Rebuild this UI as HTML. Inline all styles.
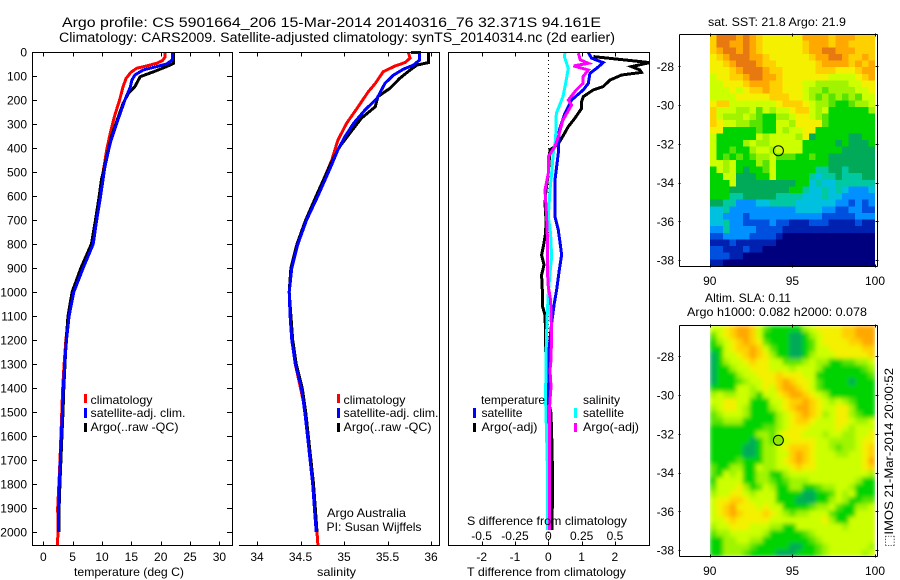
<!DOCTYPE html>
<html>
<head>
<meta charset="utf-8">
<title>Argo profile CS 5901664_206</title>
<style>
html,body{margin:0;padding:0;background:#fff;}
svg{display:block;font-family:"Liberation Sans",sans-serif;fill:#000;}
text{font-size:12px;}
.t14{font-size:13.5px;}
.crisp{shape-rendering:crispEdges;}
</style>
</head>
<body>
<svg id="chart" xmlns="http://www.w3.org/2000/svg" width="900" height="580" viewBox="0 0 900 580">
  <defs>
    <filter id="smooth" x="-5%" y="-5%" width="110%" height="110%"><feGaussianBlur stdDeviation="2.2" edgeMode="duplicate"/></filter>
    <clipPath id="sla-clip"><rect x="710" y="325.5" width="165" height="231"/></clipPath>
  </defs>
  <text class="t14" x="62" y="27" textLength="539" lengthAdjust="spacingAndGlyphs">Argo profile: CS 5901664_206 15-Mar-2014 20140316_76 32.371S 94.161E</text>
  <text class="t14" x="59" y="42" textLength="556" lengthAdjust="spacingAndGlyphs">Climatology: CARS2009. Satellite-adjusted climatology: synTS_20140314.nc (2d earlier)</text>

  <g id="grid-layer"></g>
  <g id="series-layer"></g>
  <g id="sst-map" class="crisp"></g>
  <g clip-path="url(#sla-clip)"><g id="sla-map" filter="url(#smooth)"></g></g>
  <g id="axes-layer" class="crisp" stroke="#000" stroke-width="1"></g>
  <g id="labels-layer"></g>

  <text x="74" y="576" textLength="110" lengthAdjust="spacingAndGlyphs">temperature (deg C)</text>
  <text x="317" y="576" textLength="39" lengthAdjust="spacingAndGlyphs">salinity</text>
  <text x="467" y="576" textLength="159" lengthAdjust="spacingAndGlyphs">T difference from climatology</text>
  <text x="467" y="525" textLength="160" lengthAdjust="spacingAndGlyphs">S difference from climatology</text>

  <g>
    <rect class="crisp" x="84" y="394" width="3" height="9" fill="#f00"/>
    <text x="90.5" y="404" textLength="62" lengthAdjust="spacingAndGlyphs">climatology</text>
    <rect class="crisp" x="84" y="408" width="3" height="10" fill="#00f"/>
    <text x="90.5" y="417" textLength="95" lengthAdjust="spacingAndGlyphs">satellite-adj. clim.</text>
    <rect class="crisp" x="84" y="423" width="3" height="9" fill="#000"/>
    <text x="90.5" y="431" textLength="88" lengthAdjust="spacingAndGlyphs">Argo(..raw -QC)</text>
  </g>
  <g>
    <rect class="crisp" x="337" y="394" width="3" height="9" fill="#f00"/>
    <text x="343.5" y="404" textLength="62" lengthAdjust="spacingAndGlyphs">climatology</text>
    <rect class="crisp" x="337" y="408" width="3" height="10" fill="#00f"/>
    <text x="343.5" y="417" textLength="95" lengthAdjust="spacingAndGlyphs">satellite-adj. clim.</text>
    <rect class="crisp" x="337" y="423" width="3" height="9" fill="#000"/>
    <text x="343.5" y="431" textLength="88" lengthAdjust="spacingAndGlyphs">Argo(..raw -QC)</text>
  </g>
  <text x="327" y="517" textLength="79" lengthAdjust="spacingAndGlyphs">Argo Australia</text>
  <text x="326.5" y="531" textLength="95" lengthAdjust="spacingAndGlyphs">PI: Susan Wijffels</text>

  <g>
    <text x="481" y="404" textLength="64" lengthAdjust="spacingAndGlyphs">temperature</text>
    <text x="583" y="404" textLength="37" lengthAdjust="spacingAndGlyphs">salinity</text>
    <rect class="crisp" x="473" y="408" width="3" height="10" fill="#00f"/>
    <text x="481.5" y="417" textLength="41" lengthAdjust="spacingAndGlyphs">satellite</text>
    <rect class="crisp" x="473" y="423" width="3" height="9" fill="#000"/>
    <text x="481.5" y="431" textLength="56" lengthAdjust="spacingAndGlyphs">Argo(-adj)</text>
    <rect class="crisp" x="574" y="408" width="3" height="10" fill="#0ff"/>
    <text x="583" y="417" textLength="41" lengthAdjust="spacingAndGlyphs">satellite</text>
    <rect class="crisp" x="574" y="423" width="3" height="9" fill="#f0f"/>
    <text x="583" y="431" textLength="56" lengthAdjust="spacingAndGlyphs">Argo(-adj)</text>
  </g>

  <text x="708" y="26" textLength="138" lengthAdjust="spacingAndGlyphs">sat. SST: 21.8 Argo: 21.9</text>
  <text x="705" y="302" textLength="86" lengthAdjust="spacingAndGlyphs">Altim. SLA: 0.11</text>
  <text x="687" y="316" textLength="180" lengthAdjust="spacingAndGlyphs">Argo h1000: 0.082 h2000: 0.078</text>
  <circle cx="778.4" cy="150.7" r="5" fill="none" stroke="#000" stroke-width="1"/>
  <circle cx="778.4" cy="440.3" r="5" fill="#8fe800" stroke="#000" stroke-width="1"/>
  <text transform="translate(893,547) rotate(-90)" x="0" y="0" textLength="179" lengthAdjust="spacingAndGlyphs">⬚IMOS 21-Mar-2014 20:00:52</text>
</svg>

<script>
// ---- profile depths and values ----
const tempClimDepth = [0,22,36,47,58,68,85,110,144,200,262,339,408,499,603,700,800,900,1000,1100,1200,1300,1400,1500,1600,1700,1800,1900,2000,2054];
const tempClim      = [20.7,20.7,20.3,19.3,17.6,15.9,14.9,14.1,13.6,13,12.2,11.4,10.8,10.2,9.6,9,8.4,6.6,5.0,4.3,3.85,3.55,3.3,3.15,3.0,2.85,2.65,2.45,2.5,2.4];
const tempSatDepth  = [0,33,50,61,75,96,117,147,200,297,380,478,603,700,800,900,1000,1100,1200,1300,1400,1500,1600,1700,1800,1900,2000];
const tempSat       = [22,22,21,19.3,17,15.6,15.1,14.8,13.9,12.5,11.4,10.5,9.75,9.1,8.5,6.8,5.2,4.4,3.95,3.65,3.4,3.25,3.07,2.9,2.73,2.62,2.56];
const tempArgoDepth = [0,47,61,82,103,144,172,214,269,353,436,533,603,700,800,900,1000,1100,1200,1300,1400,1500,1600,1700,1800,1900,2000];
const tempArgo      = [22.2,22.2,21,18.8,16.5,15.6,14.5,13.6,12.8,11.6,10.8,9.9,9.5,8.9,8.2,6.4,4.9,4.2,3.9,3.7,3.5,3.35,3.17,3.0,2.83,2.7,2.65];

const salClimDepth = [3,26,44,58,82,131,165,235,297,367,450,600,700,800,900,1000,1100,1200,1300,1400,1500,1600,1700,1800,1900,2000,2054];
const salClim      = [35.74,35.76,35.7,35.59,35.45,35.36,35.28,35.15,35.03,34.93,34.86,34.69,34.57,34.47,34.4,34.37,34.38,34.4,34.44,34.5,34.56,34.59,34.62,34.65,34.67,34.69,34.7];
const salSatDepth  = [3,3,33,54,72,96,131,193,242,297,353,408,485,600,700,800,900,1000,1100,1200,1300,1400,1500,1600,1700,1800,1900,2000];
const salSat       = [35.77,35.87,35.87,35.8,35.68,35.57,35.47,35.38,35.24,35.11,35.01,34.93,34.84,34.7,34.57,34.47,34.4,34.37,34.38,34.4,34.44,34.51,34.55,34.58,34.61,34.64,34.66,34.68];
const salArgoDepth = [5,44,54,75,110,151,186,228,276,318,394,471,600,700,800,900,1000,1100,1200,1300,1400,1500,1600,1700,1800,1900,2000];
const salArgo      = [35.97,35.97,35.84,35.76,35.64,35.53,35.39,35.36,35.2,35.11,34.95,34.84,34.68,34.56,34.46,34.39,34.37,34.39,34.41,34.45,34.52,34.56,34.59,34.62,34.65,34.67,34.69];

const diffTArgoDepth = [19,44,61,75,85,96,117,144,158,186,207,235,276,311,353,383,408,505,575,630,700,756,811,846,887,929,992,1061,1096,1172,1242,1283,1450,1506,1644,1783,1992];
const diffTArgo      = [1.35,3.05,2.5,2.75,2.8,2.2,1.85,1.65,1.35,1.05,1,1,0.8,0.6,0.43,0.3,0.05,0,-0.07,-0.1,-0.07,-0.08,-0.15,-0.2,-0.13,-0.2,-0.18,-0.17,-0.1,-0.08,-0.09,0,0,0.08,0.11,0.13,0.11];
const diffTSatDepth  = [3,26,44,68,89,131,158,200,256,325,422,533,686,742,811,846,908,992,1047,1131,1172,1270,1394,1600,1992];
const diffTSat       = [1.2,1.3,1.65,1.45,1.25,1.2,1.05,0.7,0.5,0.33,0.3,0.2,0.2,0.3,0.37,0.4,0.33,0.25,0.18,0.1,0.07,0,0,0.03,0.03];
const diffSSatDepth  = [3,19,68,131,186,256,367,408,505,575,686,756,853,922,1006,1089,1172,1270,1450,1506,1714,1922,1992];
const diffSSat       = [0.125,0.12,0.15,0.13,0.11,0.06,0.055,0.04,0.025,0.0125,0,0.017,0.025,0.0125,0,-0.0075,-0.0125,-0.0175,-0.02,-0.0175,-0.0075,-0.005,-0.005];
const diffSArgoDepth = [5,33,47,58,75,103,131,158,200,221,283,353,394,436,505,575,686,797,908,978,1033,1172,1283,1325,1394,1450,1506,1783,1992];
const diffSArgo      = [0.225,0.24,0.3,0.19,0.3,0.26,0.26,0.21,0.15,0.175,0.11,0.075,0.05,0,0,-0.025,-0.0125,-0.005,-0.0075,0,0.0175,0.025,0.02,0.0125,0.02,0.0125,0.0075,0.0075,0.0075];

// ---- tick labels ----
const depthTicks = [0,100,200,300,400,500,600,700,800,900,1000,1100,1200,1300,1400,1500,1600,1700,1800,1900,2000];
const tempTicks = [0,5,10,15,20,25,30];
const salTicks = ["34","34.5","35","35.5","36"];
const diffTTicks = ["-2","-1","0","1","2"];
const diffSTicks = ["-0.5","-0.25","0","0.25","0.5"];
const lonTicks = [90,95,100];
const latTicks = [28,30,32,34,36,38];

// ---- heatmaps: colour class per cell, west to east, north to south (0.4 deg x 0.34 deg cells) ----
const sstCells = [
"ceeed edcbb bbbbd dddcd ddccc",
"ceedd edcbb bbbbc dddcd dcccc",
"cdeed edcbb bbbbc ddeed ddccc",
"bcdee eddcb bbbbb cddee dccdc",
"bbcde eedcc bbbbb bcddd dcdcd",
"bbbcd eeedc cbbbb bcccb bbcdd",
"abbcc deedd cbbbb bbbaa aabcd",
"aabbb cdddc cbbba a9999 9aabb",
"aaaba bccdc cbbba 99899 99aab",
"aaaab bbbbc ccbba 98989 898aa",
"bccaa aaaaa bcccb a9987 7899a",
"caaa9 9a8a9 aabcc a9a77 77779",
"ca999 a9877 99abb a9877 77777",
"cbaa9 98877 aa9bb bb877 77777",
"bb777 77877 a9aab b7777 77777",
"a7777 77a9a aaa9b 67777 76677",
"a7777 9a99a aaaa7 77776 76667",
"a7787 79aa9 aaaa7 77777 66666",
"a7878 7899a 88877 87766 66666",
"aa9a7 7798a 77777 77766 66666",
"7a9a7 6778a 77777 75566 56666",
"77aa6 6677a 77777 54556 55566",
"777a6 66666 66677 45445 55555",
"77766 66666 66775 44545 43334",
"77755 66666 55554 44544 33333",
"66553 33445 55544 44443 32323",
"44533 33333 33344 44332 23322",
"44333 23333 33333 33222 22333",
"44533 22223 22111 22211 11211",
"33533 33222 21111 11111 11111",
"22333 32222 10000 00000 00000",
"11121 11111 00000 00000 00000",
"22111 21100 00000 00000 00000",
"22211 00000 00000 00000 00000",
"11000 00000 00000 00000 00000"
];
const slaCells = [
"aabcd dca87 77779 abbbb ccddd",
"8abcd dca77 77667 9abbb ccddd",
"79abc dcb87 77667 8abbb bccdd",
"77abc cdca8 77667 8aabb bbbcc",
"67aab cdcb9 77667 9aaab bbbbc",
"679aa bcbba a8889 a9977 8899a",
"6779a abbba aa9aa a9777 77789",
"67779 aabbb cbbba a7777 77778",
"67778 9aabb cdcbb a8777 76777",
"7777a a9aba cddcb a8777 77777",
"9a99a a97aa bcddc ba977 77777",
"aabba a777a abccd cba9a 98777",
"9abba 97779 abcdd cbaab b9777",
"89aaa 97777 9abcd cb9ab b9877",
"88999 77777 9abcc baaab ba99a",
"77777 77788 9abbb aaaab a9aaa",
"77777 77998 abbba aa9aa 99aab",
"77777 76798 aabbb baa99 99abb",
"77777 66799 abccc baa98 99abc",
"77777 66799 aacdc baaa9 9aabc",
"77778 77799 abcdc baaaa aaabd",
"87799 77a99 aabcb baaaa aaabc",
"87a9a 77997 79aaa aaaaa aaaa9",
"7aaaa 77998 78999 aaaaa aa977",
"8aaab 978a9 77997 7899a a9777",
"9aabb a9aaa 77776 6778a 9a777",
"abbcc baaaa 77766 6779a 97788",
"abcdb bbaba a7777 899a8 7799a",
"abcdc bbbcb a9899 aaa87 77aaa",
"aabcb bbbba aaaaa aab97 7aaaa",
"9aabb baaa9 977aa aaaaa 9aaaa",
"899aa aaa97 77778 9aaaa aaaaa",
"7799a a9977 77777 89aaa aaaaa",
"77999 98777 77667 789aa aaaa9",
"77999 87777 66677 789aa aaa9a"
];
const colourScale = {"0":"#00007f","1":"#0020b0","2":"#0050e0","3":"#0090ff","4":"#00c0e0","5":"#00c8a0","6":"#00aa58","7":"#00d400","8":"#58e400","9":"#a0f400","a":"#ccff00","b":"#f4f000","c":"#ffd000","d":"#ffa800","e":"#e87810"};

const NS = "http://www.w3.org/2000/svg";
const yDepth = d => 52 + d * 0.24;
const xTemp = t => 43.3 + t * 5.87;
const xSal = s => 257 + (s - 34) * 87;
const xDiffT = t => 548.3 + t * 33.3;
const xDiffS = s => 548.3 + s * 133.3;
const xLon = lon => 709.8 + (lon - 90) * 16.52;
const ySst = lat => 66.3 + (lat - 28) * 19.37;
const ySla = lat => 356.3 + (lat - 28) * 19.37;

const seriesLayer = document.getElementById("series-layer");
const axesLayer = document.getElementById("axes-layer");
const labelsLayer = document.getElementById("labels-layer");
const gridLayer = document.getElementById("grid-layer");

function drawSeries(name, depths, values, xScale, colour) {
  const el = document.createElementNS(NS, "polyline");
  el.setAttribute("points", depths.map((d, i) => xScale(values[i]).toFixed(1) + "," + yDepth(d).toFixed(1)).join(" "));
  el.setAttribute("fill", "none");
  el.setAttribute("stroke", colour);
  el.setAttribute("stroke-width", "3");
  el.setAttribute("stroke-linejoin", "miter");
  el.setAttribute("shape-rendering", "crispEdges");
  
  
  seriesLayer.appendChild(el);
}

function drawLine(name, x1, y1, x2, y2) {
  const el = document.createElementNS(NS, "line");
  el.setAttribute("x1", x1);
  el.setAttribute("y1", y1);
  el.setAttribute("x2", x2);
  el.setAttribute("y2", y2);
  
  
  axesLayer.appendChild(el);
}

function drawLabel(name, str, x, y, anchor) {
  const el = document.createElementNS(NS, "text");
  el.setAttribute("x", x);
  el.setAttribute("y", y);
  el.setAttribute("text-anchor", anchor);
  el.textContent = str;
  
  
  labelsLayer.appendChild(el);
}

// zero line in the difference panel
const zeroLine = document.createElementNS(NS, "line");
zeroLine.setAttribute("x1", "548.5");
zeroLine.setAttribute("x2", "548.5");
zeroLine.setAttribute("y1", "52");
zeroLine.setAttribute("y2", "545");
zeroLine.setAttribute("stroke", "#000");
zeroLine.setAttribute("stroke-dasharray", "1 3");


gridLayer.appendChild(zeroLine);

// profile series
drawSeries("temperature-climatology-line", tempClimDepth, tempClim, xTemp, "#f00");
drawSeries("temperature-argo-line", tempArgoDepth, tempArgo, xTemp, "#000");
drawSeries("temperature-satellite-line", tempSatDepth, tempSat, xTemp, "#00f");
drawSeries("salinity-climatology-line", salClimDepth, salClim, xSal, "#f00");
drawSeries("salinity-argo-line", salArgoDepth, salArgo, xSal, "#000");
drawSeries("salinity-satellite-line", salSatDepth, salSat, xSal, "#00f");
drawSeries("t-difference-argo-line", diffTArgoDepth, diffTArgo, xDiffT, "#000");
drawSeries("t-difference-satellite-line", diffTSatDepth, diffTSat, xDiffT, "#00f");
drawSeries("s-difference-satellite-line", diffSSatDepth, diffSSat, xDiffS, "#0ff");
drawSeries("s-difference-argo-line", diffSArgoDepth, diffSArgo, xDiffS, "#f0f");

// panel frames
const top0 = 52.5, bot0 = 545.5;
drawLine("temperature-panel-top", 32, top0, 233, top0);
drawLine("temperature-panel-bottom", 32, bot0, 233, bot0);
drawLine("temperature-panel-left", 32.5, top0, 32.5, bot0);
drawLine("temperature-panel-right", 232.5, top0, 232.5, bot0);
drawLine("salinity-panel-top", 239, top0, 440, top0);
drawLine("salinity-panel-bottom", 239, bot0, 440, bot0);
drawLine("salinity-panel-right", 439.5, top0, 439.5, bot0);
drawLine("difference-panel-top", 448, top0, 650, top0);
drawLine("difference-panel-bottom", 448, bot0, 650, bot0);
drawLine("difference-panel-left", 448.5, top0, 448.5, bot0);
drawLine("difference-panel-right", 649.5, top0, 649.5, bot0);

// depth axis
depthTicks.forEach(d => {
  const y = Math.round(yDepth(d)) + 0.5;
  drawLine("depth-tick-left", 32, y, 37, y);
  drawLine("depth-tick-right", 227, y, 232, y);
  drawLabel("depth-tick-label", String(d), 27, yDepth(d) + 4.5, "end");
});

// temperature axis
tempTicks.forEach(t => {
  const x = Math.round(xTemp(t)) + 0.5;
  drawLine("temperature-tick-top", x, top0, x, top0 + 4);
  drawLine("temperature-tick-bottom", x, bot0 - 4, x, bot0);
  drawLabel("temperature-tick-label", String(t), xTemp(t), 561, "middle");
});

// salinity axis
salTicks.forEach(s => {
  const x = Math.round(xSal(Number(s))) + 0.5;
  drawLine("salinity-tick-top", x, top0, x, top0 + 4);
  drawLine("salinity-tick-bottom", x, bot0 - 4, x, bot0);
  drawLabel("salinity-tick-label", s, xSal(Number(s)), 561, "middle");
});

// difference axes
diffTTicks.forEach(t => {
  const x = Math.round(xDiffT(Number(t))) + 0.5;
  drawLine("t-difference-tick-top", x, top0, x, top0 + 4);
  drawLine("t-difference-tick-bottom", x, bot0 - 4, x, bot0);
  drawLabel("t-difference-tick-label", t, xDiffT(Number(t)), 561, "middle");
});
diffSTicks.forEach(s => {
  drawLabel("s-difference-tick-label", s, xDiffS(Number(s)), 540, "middle");
});

// heatmaps
function drawCells(layerId, rows, top, cellH, pad, cellName) {
  const layer = document.getElementById(layerId);
  const cellW = 0.4;
  rows.forEach((row, j) => {
    const chars = row.replace(/ /g, "");
    for (let i = 0; i < chars.length; i++) {
      const x0 = xLon(90 + i * cellW), x1 = xLon(90 + (i + 1) * cellW);
      const rect = document.createElementNS(NS, "rect");
      rect.setAttribute("x", x0.toFixed(2));
      rect.setAttribute("y", (top + j * cellH).toFixed(2));
      rect.setAttribute("width", (x1 - x0 + pad).toFixed(2));
      rect.setAttribute("height", (cellH + pad).toFixed(2));
      rect.setAttribute("fill", colourScale[chars[i]]);
      
      
      layer.appendChild(rect);
    }
  });
}
drawCells("sst-map", sstCells, 34, 232 / 35, 0.1, "sst-cell");
drawCells("sla-map", slaCells, 325.5, 231 / 35, 0.5, "sla-cell");

// map frames and ticks
function drawMapAxes(prefix, top, bottom, yLat, xLabelY) {
  const left = 679.5, right = 877.5;
  drawLine(prefix + "-frame-top", left, top, right, top);
  drawLine(prefix + "-frame-bottom", left, bottom, right, bottom);
  drawLine(prefix + "-frame-left", left, top, left, bottom);
  drawLine(prefix + "-frame-right", right, top, right, bottom);
  lonTicks.forEach(lon => {
    const x = Math.round(xLon(lon)) + 0.5;
    drawLine(prefix + "-lon-tick-top", x, top - 1, x, top + 2);
    drawLine(prefix + "-lon-tick-bottom", x, bottom - 2, x, bottom + 1);
    drawLabel(prefix + "-lon-label", String(lon), xLon(lon), xLabelY, "middle");
  });
  latTicks.forEach(lat => {
    const y = Math.round(yLat(lat)) + 0.5;
    drawLine(prefix + "-lat-tick-left", left - 1, y, left + 1, y);
    drawLine(prefix + "-lat-tick-right", right - 2, y, right + 1, y);
    drawLabel(prefix + "-lat-label", "-" + lat, 674, yLat(lat) + 4.5, "end");
  });
}
drawMapAxes("sst-map", 34.5, 266.5, ySst, 285);
drawMapAxes("sla-map", 325.5, 556.5, ySla, 575);
</script>
</body>
</html>
